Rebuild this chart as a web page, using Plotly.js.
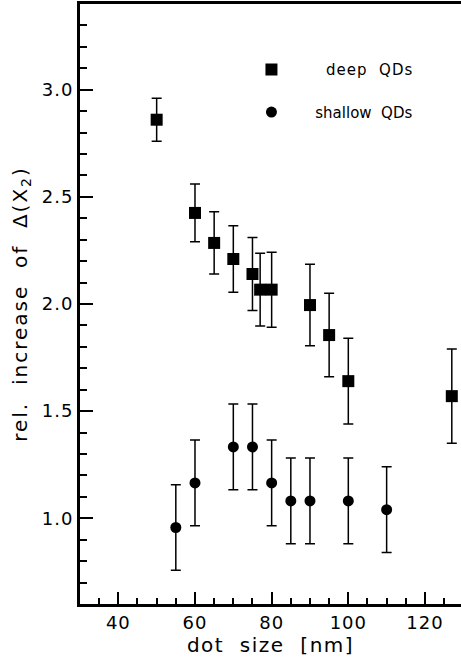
<!DOCTYPE html>
<html>
<head>
<meta charset="utf-8">
<script src="https://cdn.plot.ly/plotly-3.0.1.min.js"></script>
<style>
html, body { margin: 0; padding: 0; background: #fff; }
#chart { width: 461px; height: 664px; }
.xtitle { letter-spacing: 1.5px; }
.ytitle { letter-spacing: 2px; }
.legendtext { letter-spacing: 1px; }
.ytick text, .xtick text { letter-spacing: 1px; }
</style>
</head>
<body>
<div id="chart"></div>
<script>
// deep QDs (squares)
const deepX   = [50, 60, 65, 70, 75, 77, 80, 90, 95, 100, 127];
const deepY   = [2.86, 2.425, 2.285, 2.21, 2.14, 2.067, 2.067, 1.995, 1.855, 1.64, 1.57];
const deepErr = [0.10, 0.135, 0.145, 0.155, 0.17, 0.17, 0.175, 0.19, 0.195, 0.20, 0.22];
// shallow QDs (circles)
const shallowX   = [55, 60, 70, 75, 80, 85, 90, 100, 110];
const shallowY   = [0.957, 1.165, 1.333, 1.333, 1.165, 1.081, 1.081, 1.081, 1.04];
const shallowErr = [0.20, 0.20, 0.20, 0.20, 0.20, 0.20, 0.20, 0.20, 0.20];

const seriesNames = ["deep\u00a0\u00a0QDs", "shallow\u00a0\u00a0QDs"];
const xTitle = "dot\u00a0\u00a0size\u00a0\u00a0[nm]";
const yTitle = "rel.\u00a0\u00a0increase\u00a0\u00a0of\u00a0\u00a0\u0394(X<sub>2</sub>)";

const FONT = "DejaVu Sans, Verdana, sans-serif";

const traces = [
  {
    x: deepX, y: deepY, type: "scatter", mode: "markers", name: "\u00a0\u00a0\u00a0\u00a0\u00a0\u00a0" + seriesNames[0],
    marker: { symbol: "square", size: 12, color: "#000" },
    error_y: { type: "data", array: deepErr, visible: true, color: "#000", thickness: 1.5, width: 5 },
    legend: "legend"
  },
  {
    x: shallowX, y: shallowY, type: "scatter", mode: "markers", name: "\u00a0\u00a0\u00a0\u00a0\u00a0" + seriesNames[1],
    marker: { symbol: "circle", size: 11, color: "#000" },
    error_y: { type: "data", array: shallowErr, visible: true, color: "#000", thickness: 1.5, width: 5 },
    legend: "legend2"
  }
];

const layout = {
  width: 461, height: 664,
  margin: { l: 80, r: 0, t: 4, b: 60 },
  paper_bgcolor: "#fff", plot_bgcolor: "#fff",
  font: { family: FONT, color: "#000", size: 18 },
  showlegend: true,
  legend: {
    x: 0.45, y: 0.918, xanchor: "left", yanchor: "top",
    bgcolor: "rgba(0,0,0,0)", borderwidth: 0,
    font: { family: FONT, size: 15, color: "#000" }
  },
  legend2: {
    x: 0.45, y: 0.847, xanchor: "left", yanchor: "top",
    bgcolor: "rgba(0,0,0,0)", borderwidth: 0,
    font: { family: FONT, size: 15, color: "#000" }
  },
  xaxis: {
    range: [30, 129.4], tick0: 0, dtick: 20,
    ticks: "inside", ticklen: 12, tickwidth: 2, tickcolor: "#000",
    minor: { dtick: 5, ticks: "inside", ticklen: 6, tickwidth: 2, tickcolor: "#000" },
    showline: true, linewidth: 3, linecolor: "#000", mirror: true,
    showgrid: false, zeroline: false,
    tickfont: { family: FONT, size: 18, color: "#000" },
    title: { text: xTitle, font: { family: FONT, size: 20, color: "#000" }, standoff: 4 }
  },
  yaxis: {
    range: [0.6, 3.4], tick0: 0, dtick: 0.5, tickformat: ".1f",
    ticks: "inside", ticklen: 13, tickwidth: 2, tickcolor: "#000",
    minor: { dtick: 0.1, ticks: "inside", ticklen: 7, tickwidth: 2, tickcolor: "#000" },
    showline: true, linewidth: 3, linecolor: "#000", mirror: false,
    showgrid: false, zeroline: false,
    tickfont: { family: FONT, size: 18, color: "#000" },
    title: { text: yTitle, font: { family: FONT, size: 20, color: "#000" }, standoff: 9 }
  }
};

Plotly.newPlot("chart", traces, layout, { displayModeBar: false, staticPlot: true });
</script>
</body>
</html>
